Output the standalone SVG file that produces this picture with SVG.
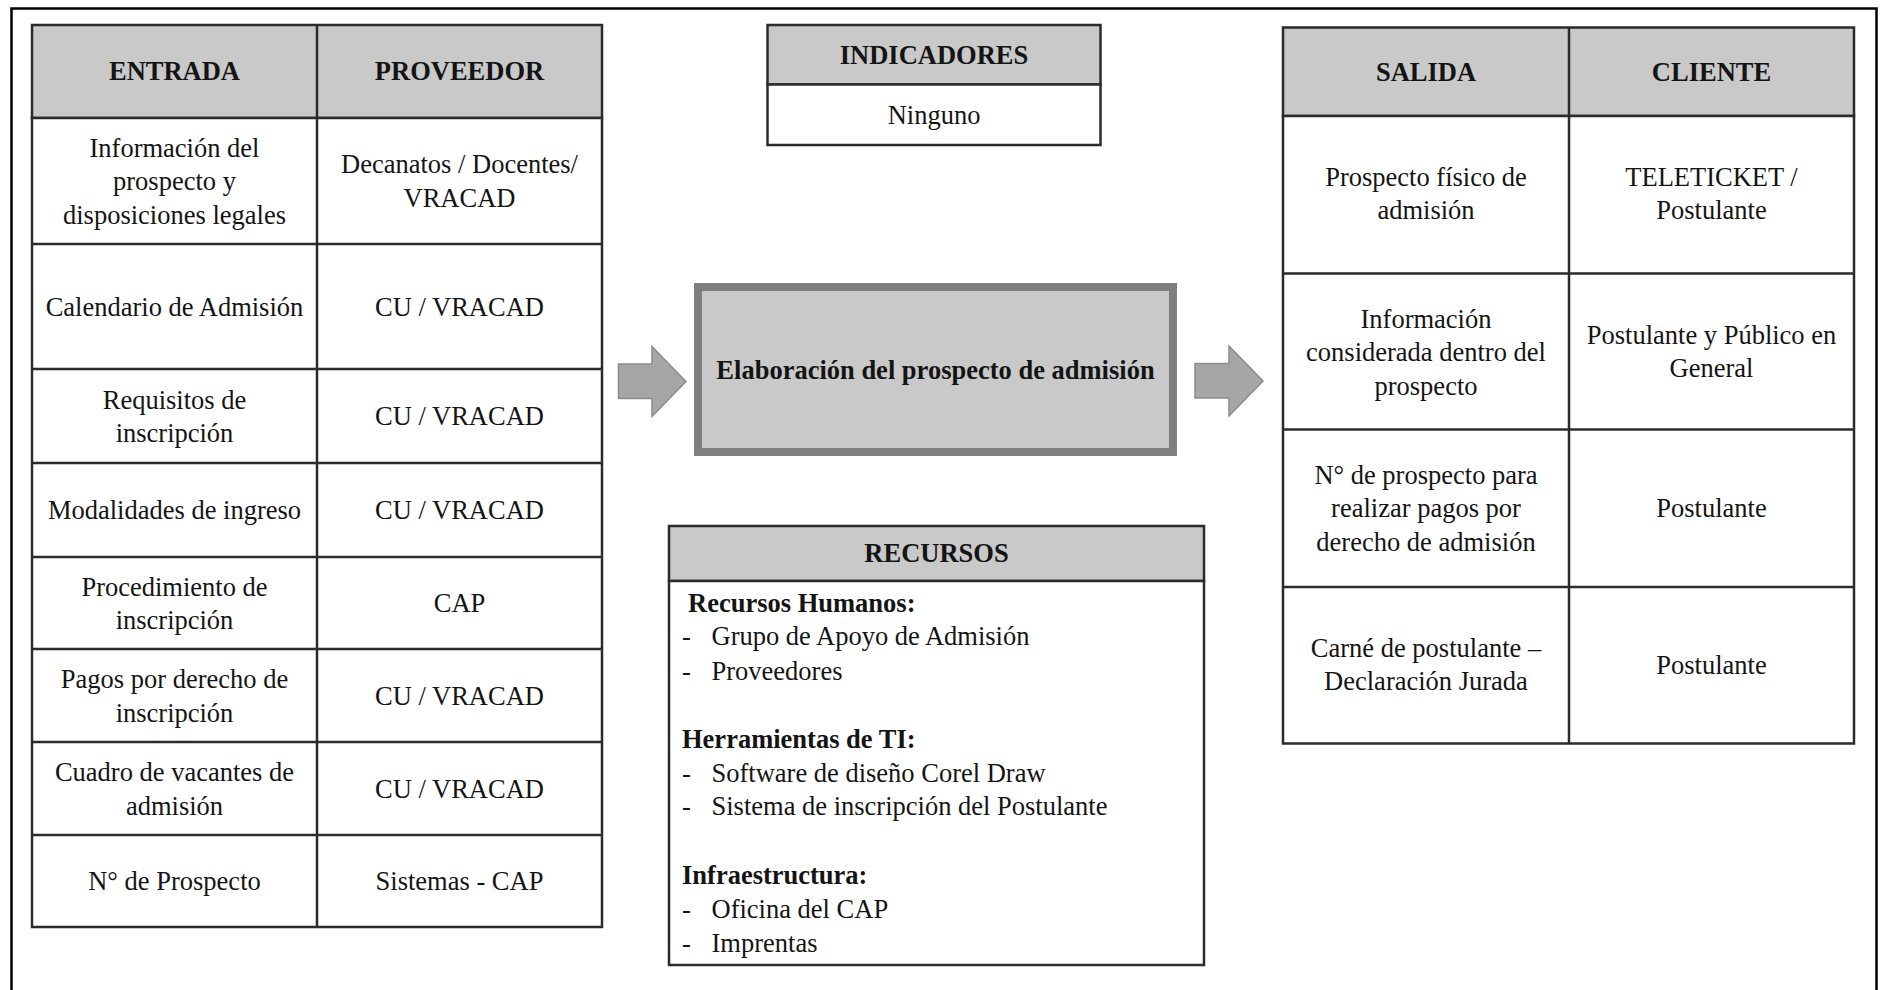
<svg xmlns="http://www.w3.org/2000/svg" width="1883" height="990" viewBox="0 0 1883 990">
  <style>
    .frame { fill: #ffffff; stroke: #000000; stroke-width: 2.5; }
    .hdr { fill: #c9c9c9; stroke: #2b2b2b; stroke-width: 2.5; }
    .cell { fill: #ffffff; stroke: #2b2b2b; stroke-width: 2.5; }
    .grid { stroke: #2b2b2b; stroke-width: 2.5; fill: none; }
    .proc { fill: #c9c9c9; stroke: #7f7f7f; stroke-width: 8; }
    .arrow { fill: #a6a6a6; stroke: #8c8c8c; stroke-width: 1.5; }
    text { font-family: "Liberation Serif", "Times New Roman", serif; font-size: 26.5px; fill: #141414; }
    .c { text-anchor: middle; }
    .b { font-weight: bold; }
  </style>

  <!-- outer border -->
  <rect class="frame" x="11.5" y="8.5" width="1865" height="990"/>

  <!-- ENTRADA / PROVEEDOR table -->
  <g id="tabla-entrada">
    <rect class="hdr" x="32" y="25" width="570" height="93"/>
    <rect class="cell" x="32" y="118" width="570" height="809"/>
    <line class="grid" x1="317" y1="25" x2="317" y2="927"/>
    <path class="grid" d="M32 244H602M32 369H602M32 463H602M32 557H602M32 649H602M32 742H602M32 835H602"/>
    <text class="c b" x="174.5" y="80">ENTRADA</text>
    <text class="c b" x="459.5" y="80">PROVEEDOR</text>

    <text class="c" x="174.5" y="156.5">Información del<tspan x="174.5" y="190">prospecto y</tspan><tspan x="174.5" y="223.5">disposiciones legales</tspan></text>
    <text class="c" x="459.5" y="173">Decanatos / Docentes/<tspan x="459.5" y="206.5">VRACAD</tspan></text>

    <text class="c" x="174.5" y="315.5">Calendario de Admisión</text>
    <text class="c" x="459.5" y="315.5">CU / VRACAD</text>

    <text class="c" x="174.5" y="408.5">Requisitos de<tspan x="174.5" y="442">inscripción</tspan></text>
    <text class="c" x="459.5" y="425">CU / VRACAD</text>

    <text class="c" x="174.5" y="519">Modalidades de ingreso</text>
    <text class="c" x="459.5" y="519">CU / VRACAD</text>

    <text class="c" x="174.5" y="595.5">Procedimiento de<tspan x="174.5" y="629">inscripción</tspan></text>
    <text class="c" x="459.5" y="612">CAP</text>

    <text class="c" x="174.5" y="688">Pagos por derecho de<tspan x="174.5" y="721.5">inscripción</tspan></text>
    <text class="c" x="459.5" y="704.5">CU / VRACAD</text>

    <text class="c" x="174.5" y="781">Cuadro de vacantes de<tspan x="174.5" y="814.5">admisión</tspan></text>
    <text class="c" x="459.5" y="797.5">CU / VRACAD</text>

    <text class="c" x="174.5" y="890">N° de Prospecto</text>
    <text class="c" x="459.5" y="890">Sistemas - CAP</text>
  </g>

  <!-- INDICADORES -->
  <g id="indicadores">
    <rect class="hdr" x="767.5" y="25" width="333" height="59.5"/>
    <rect class="cell" x="767.5" y="84.5" width="333" height="60.5"/>
    <text class="c b" x="934" y="63.5">INDICADORES</text>
    <text class="c" x="934" y="123.5">Ninguno</text>
  </g>

  <!-- process -->
  <g id="proceso">
    <rect class="proc" x="698" y="287" width="475" height="165"/>
    <text class="c b" x="935.5" y="378.5">Elaboración del prospecto de admisión</text>
  </g>

  <!-- RECURSOS -->
  <g id="recursos">
    <rect class="hdr" x="669" y="526" width="535" height="55"/>
    <rect class="cell" x="669" y="581" width="535" height="384"/>
    <text class="c b" x="936.5" y="562">RECURSOS</text>
    <text class="b" x="688" y="612">Recursos Humanos:</text>
    <text x="682" y="645">-</text><text x="711.5" y="645">Grupo de Apoyo de Admisión</text>
    <text x="682" y="680">-</text><text x="711.5" y="680">Proveedores</text>
    <text class="b" x="682" y="747.5">Herramientas de TI:</text>
    <text x="682" y="782">-</text><text x="711.5" y="782">Software de diseño Corel Draw</text>
    <text x="682" y="815">-</text><text x="711.5" y="815">Sistema de inscripción del Postulante</text>
    <text class="b" x="682" y="883.5">Infraestructura:</text>
    <text x="682" y="917.5">-</text><text x="711.5" y="917.5">Oficina del CAP</text>
    <text x="682" y="952">-</text><text x="711.5" y="952">Imprentas</text>
  </g>

  <!-- SALIDA / CLIENTE table -->
  <g id="tabla-salida">
    <rect class="hdr" x="1283" y="27.5" width="571" height="88.5"/>
    <rect class="cell" x="1283" y="116" width="571" height="627.5"/>
    <line class="grid" x1="1569" y1="27.5" x2="1569" y2="743.5"/>
    <path class="grid" d="M1283 273.5H1854M1283 429.5H1854M1283 587H1854"/>
    <text class="c b" x="1426" y="80.5">SALIDA</text>
    <text class="c b" x="1711.5" y="80.5">CLIENTE</text>

    <text class="c" x="1426" y="185.5">Prospecto físico de<tspan x="1426" y="219">admisión</tspan></text>
    <text class="c" x="1711.5" y="185.5">TELETICKET /<tspan x="1711.5" y="219">Postulante</tspan></text>

    <text class="c" x="1426" y="327.5">Información<tspan x="1426" y="361">considerada dentro del</tspan><tspan x="1426" y="394.5">prospecto</tspan></text>
    <text class="c" x="1711.5" y="343.5">Postulante y Público en<tspan x="1711.5" y="377">General</tspan></text>

    <text class="c" x="1426" y="483.5">N° de prospecto para<tspan x="1426" y="517">realizar pagos por</tspan><tspan x="1426" y="550.5">derecho de admisión</tspan></text>
    <text class="c" x="1711.5" y="517">Postulante</text>

    <text class="c" x="1426" y="657">Carné de postulante –<tspan x="1426" y="690">Declaración Jurada</tspan></text>
    <text class="c" x="1711.5" y="673.5">Postulante</text>
  </g>

  <!-- block arrows into and out of the process -->
  <g id="conectores">
    <polygon class="arrow" points="618.5,364 652,364 652,346.5 686,381.5 652,416.5 652,398.5 618.5,398.5"/>
    <polygon class="arrow" points="1195,363.5 1229,363.5 1229,346 1263,381 1229,416 1229,398 1195,398"/>
  </g>
</svg>
